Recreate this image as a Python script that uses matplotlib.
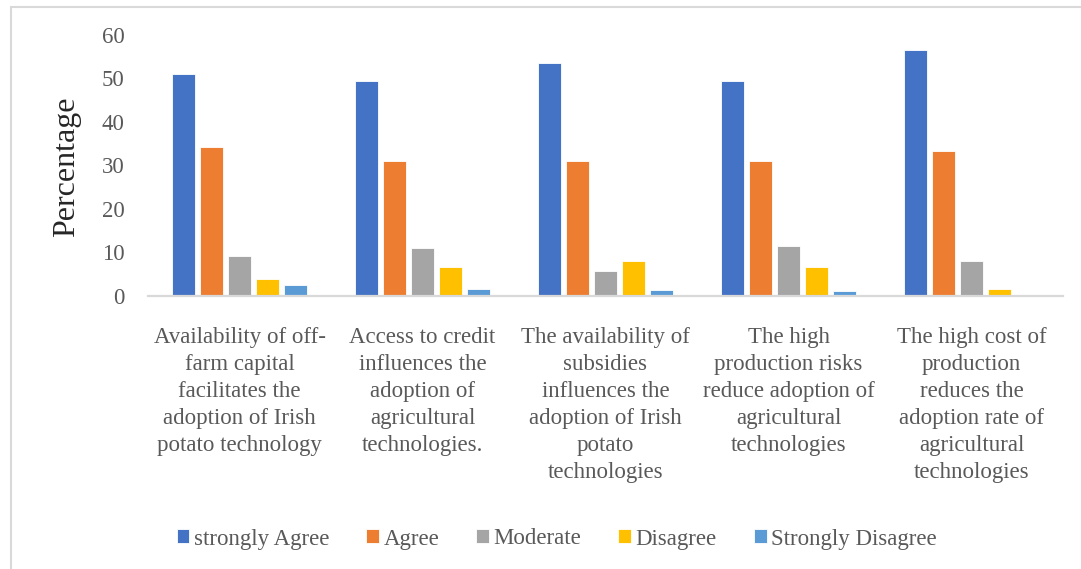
import numpy as np
import matplotlib
matplotlib.use("Agg")
import matplotlib.pyplot as plt
from matplotlib.patches import Rectangle

plt.rcParams['font.family'] = ['Liberation Serif', 'DejaVu Serif']

# categories (as wrapped in the original)
categories = [
    "Availability of off-\nfarm capital\nfacilitates the\nadoption of Irish\npotato technology",
    "Access to credit\ninfluences the\nadoption of\nagricultural\ntechnologies.",
    "The availability of\nsubsidies\ninfluences the\nadoption of Irish\npotato\ntechnologies",
    "The high\nproduction risks\nreduce adoption of\nagricultural\ntechnologies",
    "The high cost of\nproduction\nreduces the\nadoption rate of\nagricultural\ntechnologies",
]
series_names = ["strongly Agree", "Agree", "Moderate", "Disagree", "Strongly Disagree"]
strongly_agree = [50.9, 49.4, 53.5, 49.4, 56.6]
agree = [34.3, 30.9, 31.1, 30.9, 33.4]
moderate = [9.2, 11.1, 5.7, 11.5, 8.0]
disagree = [4.0, 6.6, 8.0, 6.6, 1.7]
strongly_disagree = [2.5, 1.6, 1.4, 1.2, 0.0]
yticks = [0, 10, 20, 30, 40, 50, 60]

colors = ['#4472C4', '#ED7D31', '#A5A5A5', '#FFC000', '#5B9BD5']
TXT = '#595959'
FS = 16.5

fig = plt.figure(figsize=(10.81, 5.69), dpi=100)
ax = fig.add_axes([148/1081, 1 - 296/569, 915/1081, 261.3/569])

x = np.arange(len(categories))
pitch, width = 0.153, 0.125
all_series = [strongly_agree, agree, moderate, disagree, strongly_disagree]
for j, (vals, name) in enumerate(zip(all_series, series_names)):
    ax.bar(x + (j - 2) * pitch, vals, width, color=colors[j], label=name,
           edgecolor='white', linewidth=0.6)

ax.set_xlim(-0.5, len(categories) - 0.5)
ax.set_ylim(0, 60)
ax.set_yticks(yticks)
ax.set_xticks(x)
ax.set_xticklabels(categories, fontsize=FS, color=TXT, linespacing=1.38)
ax.tick_params(axis='y', length=0, pad=17, labelsize=FS, labelcolor=TXT)
ax.tick_params(axis='x', length=0, pad=22)

for s in ('top', 'right', 'left'):
    ax.spines[s].set_visible(False)
ax.spines['bottom'].set_color('#D9D9D9')
ax.spines['bottom'].set_linewidth(1.6)

ax.set_ylabel("Percentage", fontsize=23, color='#262626')
ax.yaxis.set_label_coords(-0.073, 0.494)

fig.legend(loc='center', bbox_to_anchor=(0.515, 1 - 539/569), ncol=5,
           frameon=False, fontsize=FS, labelcolor=TXT,
           handlelength=0.55, handleheight=0.55, handletextpad=0.2,
           columnspacing=1.62)

# chart border
fig.patches.append(Rectangle((11/1081, -0.1), 1.2, 1 - 7/569 + 0.1,
                             transform=fig.transFigure, fill=False,
                             edgecolor='#D9D9D9', linewidth=1.5))

fig.savefig("out.png", dpi=100)
